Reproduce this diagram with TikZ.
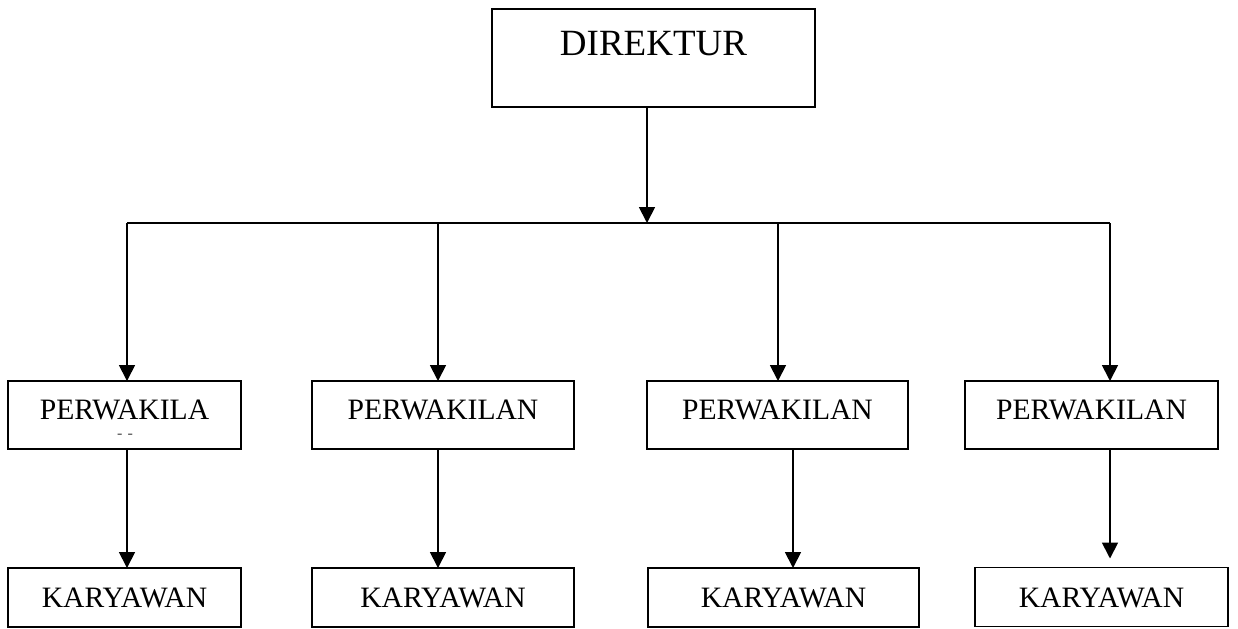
\documentclass[tikz,border=0pt]{standalone}
\usepackage{fontspec}
\setmainfont{Liberation Serif}
\usepackage{tikz}
\usetikzlibrary{calc,arrows.meta}

\begin{document}
\begin{tikzpicture}[x=0.5pt, y=-0.5pt, line width=0.9pt,
    arr/.style={-{Triangle[length=8pt,width=8pt]}},
    box/.style={draw, rectangle, inner sep=0pt, outer sep=0pt},
    dirbox/.style={box, minimum width=161.5pt, minimum height=49pt,
        font=\fontsize{18.5pt}{22pt}\selectfont, text height=12pt, text depth=15pt},
    pwbox/.style={box, minimum height=34pt,
        font=\fontsize{14.8pt}{17pt}\selectfont, text height=10pt, text depth=6pt},
    kybox/.style={box, minimum height=29.5pt,
        font=\fontsize{14.8pt}{17pt}\selectfont, text height=10pt, text depth=0pt}]

    \useasboundingbox (0,0) rectangle (1238,628); %Page size

    %Top box
    \node[dirbox] (dir) at (653.5,58) {DIREKTUR};

    %Branch line
    \coordinate (busL) at (127,223);  %Left end
    \coordinate (busB) at (438,223);  %Second drop
    \coordinate (busC) at (778,223);  %Third drop
    \coordinate (busR) at (1110,223); %Right end

    %Middle row
    \node[pwbox, minimum width=116.5pt] (pwA) at (124.5,415) {PERWAKILA};
    \node[pwbox, minimum width=131pt]   (pwB) at (443,415)   {PERWAKILAN};
    \node[pwbox, minimum width=130.5pt] (pwC) at (777.5,415) {PERWAKILAN};
    \node[pwbox, minimum width=126.5pt] (pwD) at (1091.5,415) {PERWAKILAN};
    \node[text=black!70, inner sep=0pt, font=\fontsize{8pt}{9pt}\selectfont] (dashA) at (125,436) {-\,\,-}; %Wrapped end

    %Bottom row
    \node[kybox, minimum width=116.5pt] (kyA) at (124.5,597.5) {KARYAWAN};
    \node[kybox, minimum width=131pt]   (kyB) at (443,597.5)   {KARYAWAN};
    \node[kybox, minimum width=135.5pt] (kyC) at (783.5,597.5) {KARYAWAN};
    \node[kybox, minimum width=126.5pt] (kyD) at (1101.5,597)  {KARYAWAN};

    %Director down to branch line
    \draw[arr] ($(dir.south)+(-6.5,0)$) coordinate (t0) -- (t0 |- busC);
    \draw (busL) -- (busR); %Branch line

    %Drops to middle row
    \draw[arr] (busL) -- (busL |- pwA.north);
    \draw[arr] (busB) -- (busB |- pwB.north);
    \draw[arr] (busC) -- (busC |- pwC.north);
    \draw[arr] (busR) -- (busR |- pwD.north);

    %Middle row down to bottom row
    \draw[arr] ($(pwA.south)+(2.5,0)$) coordinate (tA) -- (tA |- kyA.north);
    \draw[arr] ($(pwB.south)+(-5,0)$) coordinate (tB) -- (tB |- kyB.north);
    \draw[arr] ($(pwC.south)+(15.5,0)$) coordinate (tC) -- (tC |- kyC.north);
    \draw[arr] ($(pwD.south)+(18.5,0)$) coordinate (tD) -- ([yshift=4.5pt]tD |- kyD.north);

\end{tikzpicture}
\end{document}
